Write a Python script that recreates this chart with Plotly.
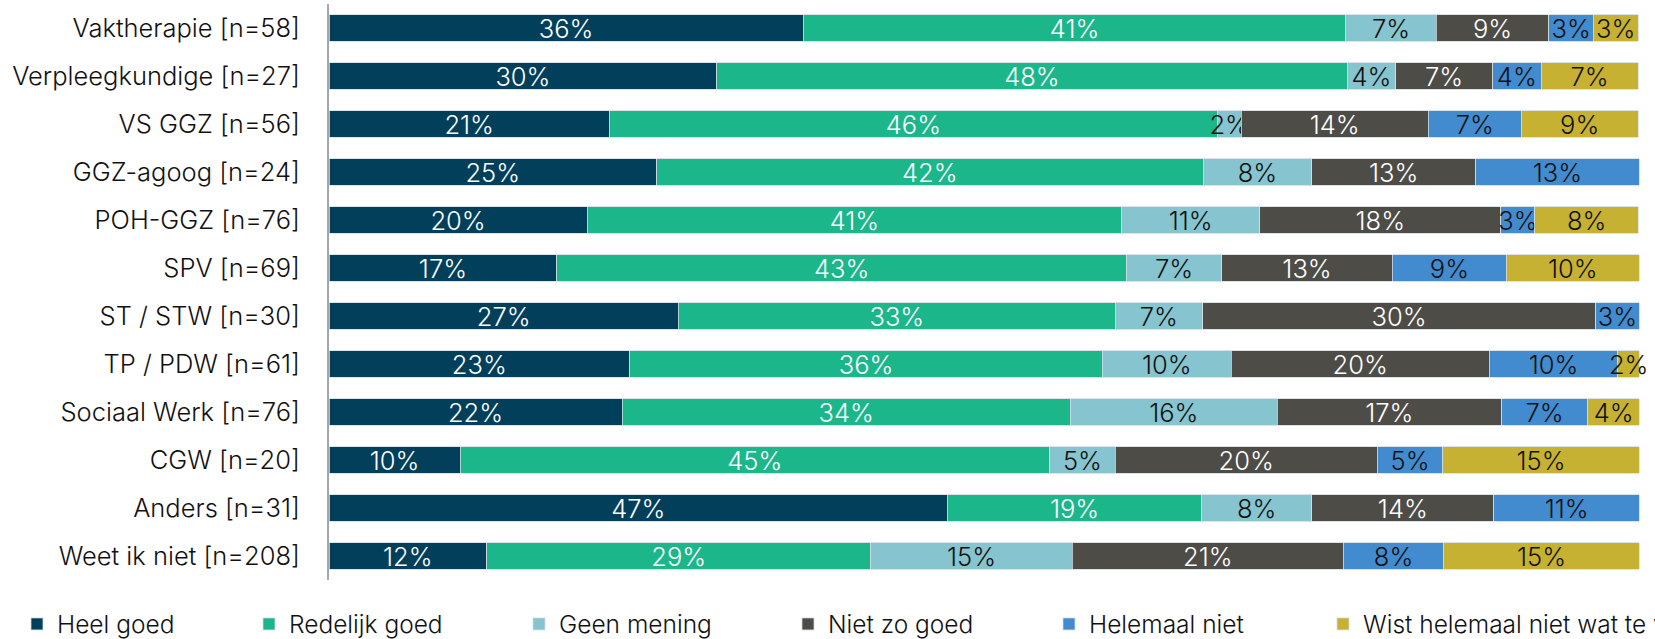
import plotly.graph_objects as go

categories = [
    "Vaktherapie [n=58]",
    "Verpleegkundige [n=27]",
    "VS GGZ [n=56]",
    "GGZ-agoog [n=24]",
    "POH-GGZ [n=76]",
    "SPV [n=69]",
    "ST / STW [n=30]",
    "TP / PDW [n=61]",
    "Sociaal Werk [n=76]",
    "CGW [n=20]",
    "Anders [n=31]",
    "Weet ik niet [n=208]",
]

series_names = [
    "Heel goed",
    "Redelijk goed",
    "Geen mening",
    "Niet zo goed",
    "Helemaal niet",
    "Wist helemaal niet wat te verwachten",
]

heel_goed = [36.2, 29.6, 21.4, 25.0, 19.7, 17.39, 26.67, 22.95, 22.37, 10.0, 47.2, 12.02]
redelijk_goed = [41.4, 48.1, 46.4, 41.7, 40.8, 43.48, 33.33, 36.07, 34.21, 45.0, 19.4, 29.33]
geen_mening = [6.9, 3.7, 1.8, 8.3, 10.53, 7.25, 6.67, 9.84, 15.79, 5.0, 8.4, 15.38]
niet_zo_goed = [8.6, 7.4, 14.3, 12.5, 18.4, 13.04, 30.0, 19.67, 17.11, 20.0, 13.9, 20.67]
helemaal_niet = [3.4, 3.7, 7.1, 12.5, 2.6, 8.70, 3.33, 9.84, 6.58, 5.0, 11.1, 7.69]
wist_niet = [3.4, 7.4, 8.9, None, 7.9, 10.14, None, 1.64, 3.95, 15.0, None, 14.90]

series_values = [heel_goed, redelijk_goed, geen_mening, niet_zo_goed, helemaal_niet, wist_niet]

colors = ["#023F5B", "#1CB68B", "#86C4CF", "#4E4C47", "#428BCE", "#C6B133"]
text_colors = ["#FFFFFF", "#FFFFFF", "#111111", "#FFFFFF", "#111111", "#111111"]
legend_left_px = [17, 249, 519, 788, 1049, 1323]

FONT = "Inter"
W, H = 1655, 639
L, R, T, B = 329, 15, 4, 59
PW, PH = W - L - R, H - T - B

fig = go.Figure()
for i, (name, vals) in enumerate(zip(series_names, series_values)):
    lg = "legend" if i == 0 else f"legend{i + 1}"
    fig.add_trace(go.Bar(
        y=categories,
        x=vals,
        name=name,
        orientation="h",
        marker=dict(color=colors[i], line=dict(color="#D3DCE2", width=0.8)),
        texttemplate="%{x:.0f}%",
        textposition="inside",
        insidetextanchor="middle",
        textangle=0,
        insidetextfont=dict(family=FONT, size=25.5, color=text_colors[i], weight=300),
        cliponaxis=False,
        legend=lg,
        hoverinfo="skip",
    ))

layout_legends = {}
for i in range(len(series_names)):
    key = "legend" if i == 0 else f"legend{i + 1}"
    layout_legends[key] = dict(
        x=(legend_left_px[i] - L) / PW,
        xref="paper",
        xanchor="left",
        y=(PH + T - 624) / PH,
        yref="paper",
        yanchor="middle",
        orientation="h",
        bgcolor="rgba(0,0,0,0)",
        font=dict(family=FONT, size=24.5, color="#111111", weight=300),
        traceorder="normal",
    )

fig.update_layout(
    width=W,
    height=H,
    barmode="stack",
    bargap=0.44,
    plot_bgcolor="white",
    paper_bgcolor="white",
    margin=dict(l=L, r=R, t=T, b=B, autoexpand=False),
    font=dict(family=FONT, size=25.5, color="#111111", weight=300),
    uniformtext=dict(mode="show", minsize=25.5),
    xaxis=dict(range=[0, 100.05], visible=False, fixedrange=True),
    yaxis=dict(
        type="category",
        autorange="reversed",
        showline=True,
        linecolor="#A2A6AE",
        linewidth=2,
        ticks="",
        showgrid=False,
        ticklabelstandoff=22,
        tickfont=dict(family=FONT, size=25.5, color="#111111", weight=300),
    ),
    showlegend=True,
    **layout_legends,
)

fig.write_html(
    "out.html",
    config={"displayModeBar": False},
    post_script="document.body.style.margin='0px'; document.body.style.overflow='hidden';",
)
